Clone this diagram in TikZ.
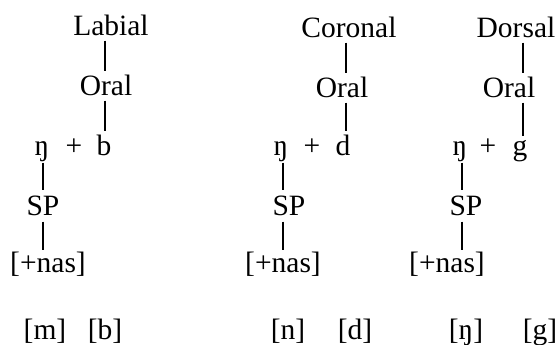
\documentclass[tikz,border=0pt]{standalone}
\usepackage{fontspec}
\setmainfont{Liberation Serif}
\begin{document}
\begin{tikzpicture}[x=0.5pt,y=-0.5pt,
  every node/.style={inner sep=0pt, anchor=base, font=\fontsize{14.75}{17}\selectfont},
  linkA/.style={line width=0.7pt, shorten <=2.5pt, shorten >=1.5pt},
  linkB/.style={line width=0.7pt, shorten <=0.5pt, shorten >=2.5pt},
  linkC/.style={line width=0.7pt, shorten <=3pt, shorten >=0.8pt}]
\useasboundingbox (0,0) rectangle (558,344);
% axis coordinates for connectors
\coordinate (ax1) at (105,0);
\coordinate (ax2) at (346,0);
\coordinate (ax3) at (523,0);
\coordinate (bx1) at (43,0);
\coordinate (bx2) at (283,0);
\coordinate (bx3) at (462,0);
% column 1
\node (lab1) at (111,35) {Labial};
\node (ora1) at (106,95) {Oral};
\node (ng1) at (42,155) {ŋ};
\node (pl1) at (74,155) {+};
\node (b1) at (104,155) {b};
\node (sp1) at (43,215) {SP};
\node (nas1) at (48,272) {[+nas]};
\node (m1) at (45,339) {[m]};
\node (bb1) at (105,339) {[b]};
% column 2
\node (lab2) at (349,37) {Coronal};
\node (ora2) at (342,97) {Oral};
\node (ng2) at (281,155) {ŋ};
\node (pl2) at (312,155) {+};
\node (b2) at (343,155) {d};
\node (sp2) at (289,215) {SP};
\node (nas2) at (283,272) {[+nas]};
\node (m2) at (288,339) {[n]};
\node (bb2) at (355,339) {[d]};
% column 3
\node (lab3) at (516,37) {Dorsal};
\node (ora3) at (509,97) {Oral};
\node (ng3) at (460,155) {ŋ};
\node (pl3) at (488,155) {+};
\node (b3) at (520,155) {g};
\node (sp3) at (466,215) {SP};
\node (nas3) at (447,272) {[+nas]};
\node (m3) at (466,339) {[ŋ]};
\node (bb3) at (540,339) {[g]};
% connectors
\foreach \i in {1,2,3}{
  \draw[linkA] (lab\i.south -| ax\i) -- (ora\i.north -| ax\i);
  \draw[linkA] (ora\i.south -| ax\i) -- (b\i.north -| ax\i);
  \draw[linkB] (ng\i.south -| bx\i) -- (sp\i.north -| bx\i);
  \draw[linkC] (sp\i.south -| bx\i) -- (nas\i.north -| bx\i);
}
\end{tikzpicture}
\end{document}
